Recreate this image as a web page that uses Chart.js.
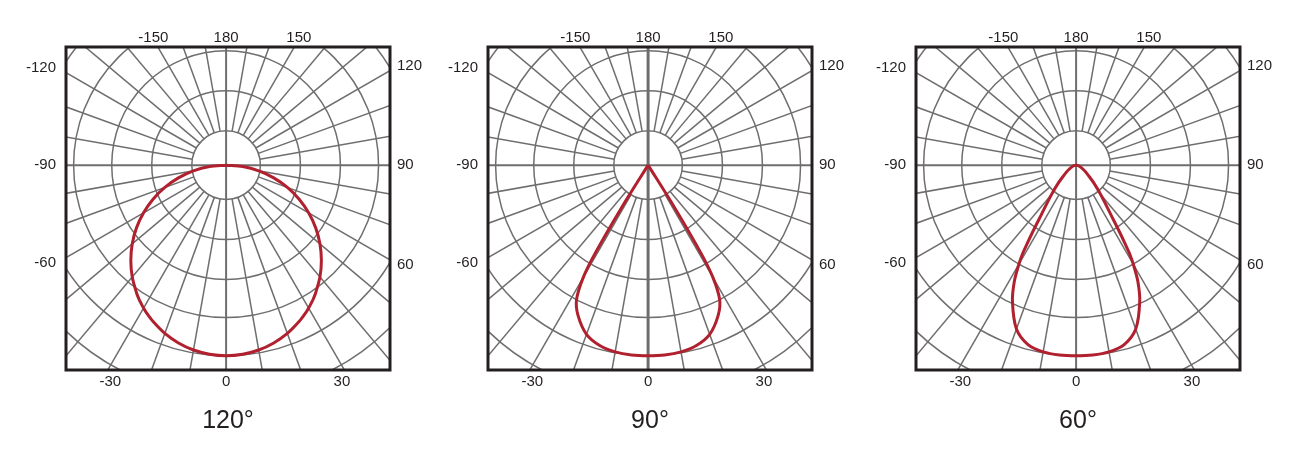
<!DOCTYPE html>
<html>
<head>
<meta charset="utf-8">
<script src="https://cdn.jsdelivr.net/npm/chart.js@4/dist/chart.umd.min.js"></script>
<style>
  body { margin: 0; background: #fff; }
  .wrap { position: relative; width: 1312px; height: 460px; }
  canvas { position: absolute; top: 0; }
</style>
</head>
<body>
<div class="wrap">
  <canvas id="c120" width="420" height="460" style="left:16px"></canvas>
  <canvas id="c90" width="420" height="460" style="left:438px"></canvas>
  <canvas id="c60" width="420" height="460" style="left:866px"></canvas>
</div>
<script>
// angle from nadir (deg) and relative intensity (% of peak), same on both sides
var angles  = [0, 5, 10, 15, 20, 25, 28, 30, 31, 32, 33, 35, 40, 45, 50, 55, 60, 65, 70, 75, 80, 85, 90];
var beam120 = [100, 99.6, 98.5, 96.6, 94, 90.6, 88.3, 86.6, 85.7, 84.8, 83.9, 81.9, 76.6, 70.7, 64.3, 57.4, 50, 42.3, 34.2, 25.9, 17.4, 8.7, 0];
var beam90  = [100, 100, 99.5, 98, 94.5, 87, 80, 68, 54, 26, 0, 0, 0, 0, 0, 0, 0, 0, 0, 0, 0, 0, 0];
var beam60  = [100, 100, 99.5, 97.5, 91.5, 79, 69, 60, 55, 48, 42, 32, 20, 13, 8.5, 6, 4, 3, 2, 1.2, 0.6, 0.2, 0];
var beamTitles = ['120°', '90°', '60°'];

// grid rings (same units) and angle labels
var ringValues = [18, 39, 60, 80, 100, 121];
var angleTicks = [0, 30, 60, 90, 120, 150, 180, -150, -120, -90, -60, -30];
var rayStep = 10;

var RED = '#b0202e';
var GRID = '#6e6e6e';
var INK = '#231f20';
var FONT = '"Liberation Sans", Arial, Helvetica, sans-serif';

function rad(d) { return d * Math.PI / 180; }

// polar (angle from straight down, intensity) -> x/y values
function toXY(a, v) {
  return {x: v * Math.sin(rad(a)), y: -v * Math.cos(rad(a))};
}

function curvePoints(values) {
  var last = 0;
  for (var i = 0; i < values.length; i++) if (values[i] > 0) last = i;
  var end = Math.min(last + 1, values.length - 1);
  var pts = [];
  for (var j = end; j > 0; j--) pts.push(toXY(-angles[j], values[j]));
  for (var k = 0; k <= end; k++) pts.push(toXY(angles[k], values[k]));
  return pts;
}

var polarGrid = {
  id: 'polarGrid',
  beforeDatasetsDraw: function(chart, args, opts) {
    var ctx = chart.ctx, area = chart.chartArea;
    var xs = chart.scales.x, ys = chart.scales.y;
    var cx = xs.getPixelForValue(0), cy = ys.getPixelForValue(0);
    var kx = xs.getPixelForValue(1) - cx, ky = cy - ys.getPixelForValue(1);
    ctx.save();
    ctx.beginPath();
    ctx.rect(area.left, area.top, area.width, area.height);
    ctx.clip();
    ctx.strokeStyle = GRID;
    ctx.lineWidth = 1.5;
    ringValues.forEach(function(v) {
      ctx.beginPath();
      ctx.ellipse(cx, cy, v * kx, v * ky, 0, 0, Math.PI * 2);
      ctx.stroke();
    });
    var far = 300;
    for (var a = 0; a < 360; a += rayStep) {
      var axis = a % 90 === 0;
      var r0 = axis ? 0 : ringValues[0];
      var p0 = toXY(a, r0), p1 = toXY(a, far);
      ctx.lineWidth = axis ? ((a % 180 === 0) ? opts.vWidth : 2) : 1.5;
      ctx.beginPath();
      ctx.moveTo(xs.getPixelForValue(p0.x), ys.getPixelForValue(p0.y));
      ctx.lineTo(xs.getPixelForValue(p1.x), ys.getPixelForValue(p1.y));
      ctx.stroke();
    }
    ctx.restore();
  },
  afterDraw: function(chart, args, opts) {
    var ctx = chart.ctx, area = chart.chartArea;
    var xs = chart.scales.x, ys = chart.scales.y;
    var cy = ys.getPixelForValue(0);
    ctx.save();
    ctx.strokeStyle = INK;
    ctx.lineWidth = 3;
    ctx.strokeRect(area.left, area.top, area.width, area.height);

    ctx.fillStyle = INK;
    ctx.font = '15px ' + FONT;
    ctx.textBaseline = 'middle';
    angleTicks.forEach(function(a) {
      var dx = Math.sin(rad(a)), dy = -Math.cos(rad(a));
      var tx = dx > 1e-9 ? xs.max / dx : dx < -1e-9 ? xs.min / dx : Infinity;
      var ty = dy > 1e-9 ? ys.max / dy : dy < -1e-9 ? ys.min / dy : Infinity;
      var t = Math.min(tx, ty);
      var px = xs.getPixelForValue(t * dx), py = ys.getPixelForValue(t * dy);
      var sx = Math.abs(dx) < 1e-9 ? 0 : Math.sign(dx);
      var sy = Math.abs(py - cy) < 1 ? 0 : Math.sign(py - cy);
      var txt = String(a);
      if (ty < tx) {
        ctx.textAlign = 'center';
        if (dy > 0) ctx.fillText(txt, px + sx * 4.5, area.top - 9);
        else ctx.fillText(txt, px - sx * 2.5, area.bottom + 12);
      } else if (dx > 0) {
        ctx.textAlign = 'left';
        ctx.fillText(txt, area.right + 7, py + sy * 5);
      } else {
        ctx.textAlign = 'right';
        ctx.fillText(txt, area.left - 10, py + sy * 5);
      }
    });

    ctx.font = '25px ' + FONT;
    ctx.textAlign = 'center';
    ctx.textBaseline = 'alphabetic';
    ctx.fillText(opts.title, (area.left + area.right) / 2, 428);
    ctx.restore();
  }
};

function makeChart(id, values, title, vWidth) {
  return new Chart(document.getElementById(id), {
    type: 'scatter',
    data: {
      datasets: [{
        data: curvePoints(values),
        showLine: true,
        borderColor: RED,
        borderWidth: 3,
        pointRadius: 0,
        tension: 0.3,
        fill: false
      }]
    },
    options: {
      responsive: false,
      animation: false,
      events: [],
      layout: {padding: {left: 50, right: 46, top: 47, bottom: 90}},
      scales: {
        x: {type: 'linear', min: -84, max: 86, display: false},
        y: {type: 'linear', min: -107.5, max: 62, display: false}
      },
      plugins: {
        legend: {display: false},
        tooltip: {enabled: false},
        polarGrid: {title: title, vWidth: vWidth}
      }
    },
    plugins: [polarGrid]
  });
}

makeChart('c120', beam120, beamTitles[0], 2);
makeChart('c90', beam90, beamTitles[1], 3);
makeChart('c60', beam60, beamTitles[2], 2);
</script>
</body>
</html>
